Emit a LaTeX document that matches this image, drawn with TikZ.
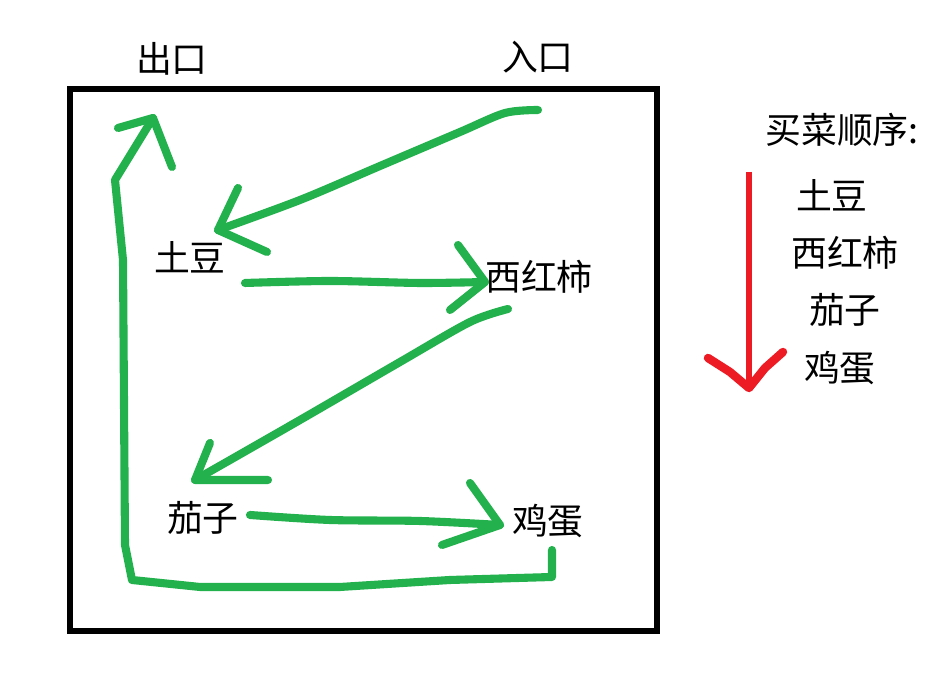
\documentclass[tikz,border=0pt]{standalone}
\usepackage{fontspec}
\newfontfamily\cjk{Noto Sans CJK SC}
\usepackage{tikz}
\usetikzlibrary{positioning}
\definecolor{penGreen}{RGB}{34,177,76}
\definecolor{penRed}{RGB}{237,28,36}
\tikzset{
  pen/.style={draw=penGreen, line width=2.3pt, line cap=round, line join=round},
  label/.style={font=\cjk\fontsize{10.2}{12}\selectfont, inner sep=0pt}
}

\begin{document}
\begin{tikzpicture}[x=0.01cm, y=-0.01cm]
    \useasboundingbox (0,0) rectangle (941,674);

    % 超市外框
    \draw[line width=1.7pt] (70,89) rectangle (657,631);
    \node[label] (exit) at (172,59) {出口};
    \node[label] (entry) at (538,57) {入口};

    % 菜的位置
    \node[label] (potato) at (190,257) {土豆};
    \node[label] (tomato) at (539,277) {西红柿};
    \node[label] (eggplant) at (203,518) {茄子};
    \node[label] (egg) at (548,521) {鸡蛋};

    % 路线上的点
    \coordinate (In) at (538,110);
    \coordinate (PotatoTip) at (218,230);
    \coordinate (TomatoTip) at (485,282);
    \coordinate (EggplantTip) at (195,480);
    \coordinate (EggTip) at (500,525);
    \coordinate (ExitTip) at (153,118);

    % 入口 -> 土豆
    \draw[pen] plot[smooth] coordinates {(In) (505,113) (460,132) (380,166) (300,200) (PotatoTip)};
    \draw[pen] (238,188) -- (PotatoTip) -- (267,252);

    % 土豆 -> 西红柿
    \draw[pen] plot[smooth] coordinates {(245,283) (330,281) (420,283) (TomatoTip)};
    \draw[pen] (458,245) -- (TomatoTip) -- (450,310);

    % 西红柿 -> 茄子
    \draw[pen] plot[smooth] coordinates {(508,309) (470,322) (400,362) (300,420) (EggplantTip)};
    \draw[pen] (210,443) -- (EggplantTip) -- (268,480);

    % 茄子 -> 鸡蛋
    \draw[pen] plot[smooth] coordinates {(250,515) (330,520) (420,521) (EggTip)};
    \draw[pen] (470,483) -- (EggTip) -- (442,545);

    % 鸡蛋 -> 出口
    \draw[pen] (552,550) -- (552,577) -- (450,580) -- (340,587) -- (200,587) -- (132,580)
        -- (125,545) -- (123,260) -- (115,180) -- (ExitTip);
    \draw[pen] (118,128) -- (ExitTip) -- (172,167);

    % 买菜顺序
    \node[label] (order) at (842,130) {买菜顺序:};
    \node[label] (l1) at (832,195) {土豆};
    \node[label] (l2) at (845,253) {西红柿};
    \node[label] (l3) at (845,310) {茄子};
    \node[label] (l4) at (840,368) {鸡蛋};
    \coordinate (RedTop) at (749,172);
    \coordinate (RedTip) at (749,388);
    \draw[draw=penRed, line width=1.5pt] (RedTop) -- (RedTip);
    \draw[draw=penRed, line width=2.4pt, line cap=round, line join=round]
        (708,358) -- (730,372) -- (RedTip) -- (765,368) -- (783,352);
\end{tikzpicture}
\end{document}
